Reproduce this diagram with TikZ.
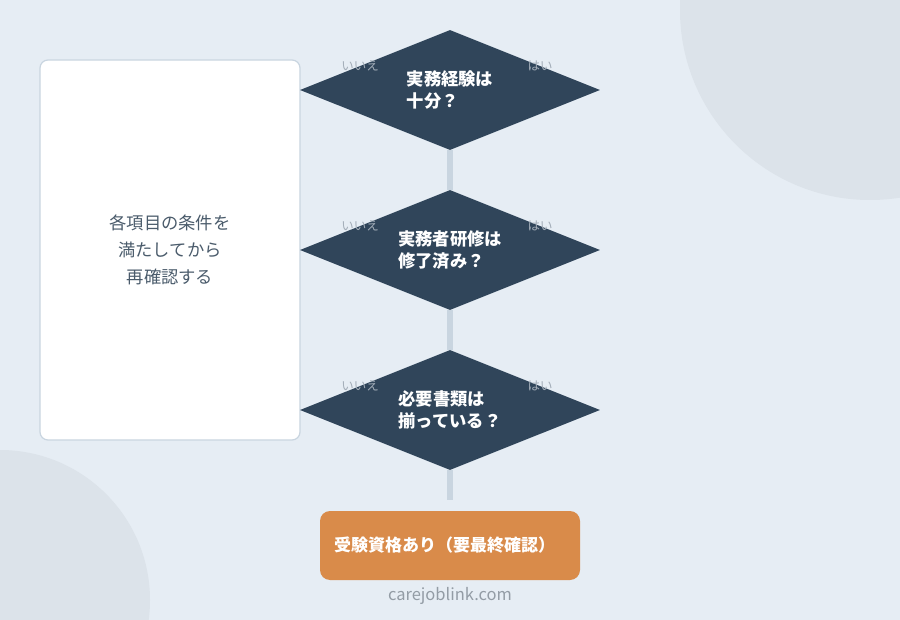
\documentclass[tikz,border=0pt]{standalone}
\usepackage{fontspec}
\setmainfont{Noto Sans CJK JP}
\usetikzlibrary{shapes.geometric}
\definecolor{bgblue}{HTML}{E6EDF4}
\definecolor{bgcircle}{HTML}{DCE3EA}
\definecolor{slate}{HTML}{30455A}
\definecolor{linegray}{HTML}{C9D5E0}
\definecolor{orangebox}{HTML}{D98B4A}
\definecolor{boxtext}{HTML}{4A5B6B}
\definecolor{labelgray}{HTML}{A3ADB8}

\begin{document}
\begin{tikzpicture}[x=1pt, y=-1pt,
    question/.style={diamond, fill=slate, text=white, aspect=2.5, minimum width=300pt, minimum height=120pt, inner sep=0pt, align=left, font=\fontsize{17.3}{22}\selectfont\bfseries},
    conn/.style={draw=linegray, line width=6pt},
    answer/.style={text=labelgray, font=\fontsize{12.5}{14}\selectfont},
    result/.style={rectangle, rounded corners=10pt, fill=orangebox, text=white, minimum height=69pt, text width=232pt, inner xsep=14pt, align=left, font=\fontsize{17}{20}\selectfont\bfseries}]
        \useasboundingbox (0,0) rectangle (900,620);
        \fill[bgblue] (0,0) rectangle (900,620);
        \begin{scope}
          \clip (0,0) rectangle (900,620);
          \fill[bgcircle] (870,10) circle (190);
          \fill[bgcircle] (0,600) circle (150);
        \end{scope}

        \node[draw=linegray, line width=1.2pt, fill=white, rounded corners=8pt, minimum width=260pt, minimum height=380pt, align=center, text=boxtext, font=\fontsize{17.3}{27}\selectfont] (retry) at (170,250) {各項目の条件を\\満たしてから\\再確認する};

        \node[question] (q1) at (450,90) {実務経験は\\十分？};
        \node[question] (q2) at (450,250) {実務者研修は\\修了済み？};
        \node[question] (q3) at (450,410) {必要書類は\\揃っている？};
        \node[result] (ok) at (450,545.5) {受験資格あり（要最終確認）};
        \coordinate (stop) at (450,500);

        \draw[conn] (q1.south) -- (q2.north);
        \draw[conn] (q2.south) -- (q3.north);
        \draw[conn] (q3.south) -- (stop);

        \foreach \q in {q1,q2,q3} {
          \node[answer] at ([xshift=-90pt,yshift=24pt]\q.center) {いいえ};
          \node[answer] at ([xshift=90pt,yshift=24pt]\q.center) {はい};
        }

        \node[text=labelgray!90!black, font=\fontsize{16.5}{18}\selectfont] (site) at (450,596) {carejoblink.com};
\end{tikzpicture}
\end{document}
